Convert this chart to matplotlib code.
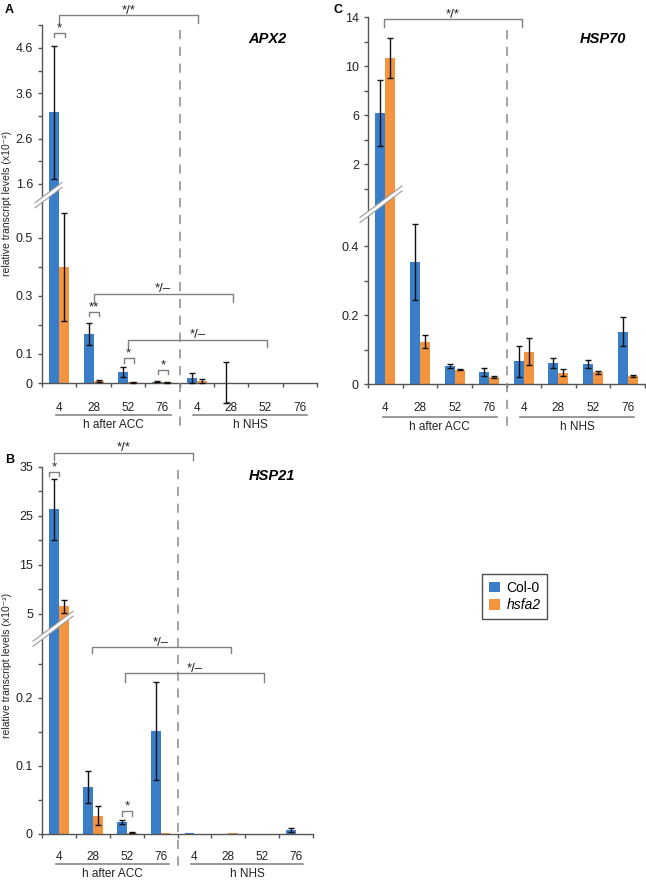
import numpy as np
import matplotlib
matplotlib.use('Agg')
import matplotlib.pyplot as plt
from matplotlib.lines import Line2D
from matplotlib.patches import Polygon, Patch
import matplotlib.transforms as mtransforms

plt.rcParams['font.family'] = ['Liberation Sans', 'DejaVu Sans']

W, H = 646, 882

# ---------------- data ----------------
time_labels = ['4', '28', '52', '76', '4', '28', '52', '76']
group_labels = ['h after ACC', 'h NHS']
series_names = ['Col-0', 'hsfa2']

apx2_col = [3.18, 0.17, 0.037, 0.005, 0.017, 0.001, 0.0, 0.0]
apx2_col_err = [1.47, 0.038, 0.017, 0.003, 0.018, 0.07, 0.0, 0.0]
apx2_hsf = [0.40, 0.008, 0.002, 0.002, 0.007, 0.001, 0.0, 0.0]
apx2_hsf_err = [0.185, 0.004, 0.001, 0.001, 0.006, 0.0, 0.0, 0.0]

hsp21_col = [26.4, 0.069, 0.017, 0.152, 0.001, 0.0005, 0.0, 0.006]
hsp21_col_err = [6.2, 0.023, 0.003, 0.072, 0.0, 0.0, 0.0, 0.003]
hsp21_hsf = [6.6, 0.027, 0.002, 0.001, 0.0005, 0.001, 0.0, 0.0]
hsp21_hsf_err = [1.35, 0.014, 0.001, 0.0, 0.0, 0.0, 0.0, 0.0]

hsp70_col = [6.16, 0.353, 0.052, 0.034, 0.066, 0.060, 0.057, 0.152]
hsp70_col_err = [2.7, 0.11, 0.007, 0.011, 0.045, 0.014, 0.012, 0.042]
hsp70_hsf = [10.65, 0.122, 0.042, 0.020, 0.094, 0.033, 0.034, 0.022]
hsp70_hsf_err = [1.6, 0.019, 0.002, 0.004, 0.040, 0.010, 0.005, 0.003]

BLUE = '#3A7DC9'
ORANGE = '#F4943F'
AXC = '#555555'
GRAY = '#808080'

fig = plt.figure(figsize=(W / 100, H / 100), dpi=100)


def fy(py):
    return 1 - py / H


def rect(x0, y0, x1, y1):
    return [x0 / W, 1 - y1 / H, (x1 - x0) / W, (y1 - y0) / H]


def style_axis(ax):
    for s in ('top', 'right'):
        ax.spines[s].set_visible(False)
    for s in ('left', 'bottom'):
        ax.spines[s].set_color(AXC)
        ax.spines[s].set_linewidth(1.0)
    ax.tick_params(axis='both', which='both', direction='out', color=AXC,
                   length=3, width=1.0, labelsize=9, pad=3.5, labelcolor='#222222')
    ax.set_facecolor('none')


def panel(x0, x1, top, brk, bot, up_lim, lo_lim, up_major, up_minor,
          lo_ticks, lo_lbls, col, col_err, hsf, hsf_err):
    ax_up = fig.add_axes(rect(x0, top, x1, brk))
    ax_lo = fig.add_axes(rect(x0, brk, x1, bot))
    idx = np.arange(len(col))
    w = 0.29
    # lower segment: all bars from zero
    ax_lo.bar(idx - w / 2, col, w, color=BLUE, zorder=2, linewidth=0)
    ax_lo.bar(idx + w / 2, hsf, w, color=ORANGE, zorder=2, linewidth=0)
    # upper segment: only bars that pass the break, continuing from the break
    for vals, off, c in ((col, -w / 2, BLUE), (hsf, w / 2, ORANGE)):
        big = [i for i, v in enumerate(vals) if v > lo_lim[1]]
        ax_up.bar([i + off for i in big], [vals[i] - up_lim[0] for i in big], w,
                  bottom=up_lim[0], color=c, zorder=2, linewidth=0)
    for ax in (ax_up, ax_lo):
        ax.set_xlim(-0.5, 7.5)
        style_axis(ax)
    ax_up.set_ylim(*up_lim)
    ax_lo.set_ylim(*lo_lim)
    ax_up.spines['bottom'].set_visible(False)
    ax_up.set_xticks([])
    ax_up.set_yticks(up_major)
    ax_up.set_yticklabels([('%g' % v) for v in up_major])
    ax_up.set_yticks(up_minor, minor=True)
    ax_up.tick_params(axis='y', which='minor', length=3, width=1.0, color=AXC)
    ax_lo.set_yticks(lo_ticks)
    ax_lo.set_yticklabels(lo_lbls)
    ax_lo.set_xticks(np.arange(-0.5, 8.0, 1.0))
    ax_lo.set_xticklabels([])
    for vals, errs, off in ((col, col_err, -w / 2), (hsf, hsf_err, w / 2)):
        for i, (v, e) in enumerate(zip(vals, errs)):
            if e <= 0:
                continue
            ax = ax_up if v > lo_lim[1] else ax_lo
            cont = ax.errorbar(i + off, v, yerr=e, fmt='none', ecolor='#111111',
                               elinewidth=1.0, capsize=2.2, capthick=1.0, zorder=3)
            for art in cont.get_children():
                art.set_clip_on(False)
    return ax_up, ax_lo


def blend(ax):
    return mtransforms.blended_transform_factory(ax.transData, fig.transFigure)


def bracket(ax, xa, xb, yline, yleg, text, fs=9.5):
    tr = blend(ax)
    fig.add_artist(Line2D([xa, xa, xb, xb], [fy(yleg), fy(yline), fy(yline), fy(yleg)],
                          transform=tr, color=GRAY, lw=1.0))
    fig.text((xa + xb) / 2, fy(yline - 1.5), text, transform=tr, ha='center', va='baseline',
             fontsize=fs, color='#222222')


def dashed(ax, y0, y1):
    tr = blend(ax)
    fig.add_artist(Line2D([3.5, 3.5], [fy(y0), fy(y1)], transform=tr, color='#8a8a8a',
                          lw=1.1, ls=(0, (6, 5))))


def xlabels(ax, ylab, yline, ygrp, l1, l2):
    tr = blend(ax)
    for i, t in enumerate(time_labels):
        fig.text(i, fy(ylab), t, transform=tr, ha='center', va='center', fontsize=8.5,
                 color='#222222')
    for (a, b), g in zip((l1, l2), group_labels):
        fig.add_artist(Line2D([a, b], [fy(yline), fy(yline)], transform=tr, color='#888888',
                              lw=1.2))
        fig.text((a + b) / 2, fy(ygrp), g, transform=tr, ha='center', va='center',
                 fontsize=8.5, color='#222222')


def band(xs, yc, xl, xr, slope=0.75, t=5):
    def pt(x, dy):
        return (x / W, fy(yc - (x - xs) * slope + dy))
    poly = Polygon([pt(xl, t / 2), pt(xr, t / 2), pt(xr, -t / 2), pt(xl, -t / 2)],
                   closed=True, transform=fig.transFigure, facecolor='white',
                   edgecolor='none', zorder=5)
    fig.add_artist(poly)
    for dy in (t / 2, -t / 2):
        a, b = pt(xl, dy), pt(xr, dy)
        fig.add_artist(Line2D([a[0], b[0]], [a[1], b[1]], transform=fig.transFigure,
                              color='#999999', lw=0.8, zorder=6))


# ---------------- Panel A: APX2 ----------------
aU, aL = panel(42, 317, 25, 200, 383, (1.247, 5.107), (0, 0.631),
               [1.6, 2.6, 3.6, 4.6], [2.1, 3.1, 4.1, 5.1],
               [0, 0.1, 0.2, 0.3, 0.4, 0.5], ['0', '0.1', '', '0.3', '', '0.5'],
               apx2_col, apx2_col_err, apx2_hsf, apx2_hsf_err)
band(42, 200, 35, 62)
dashed(aL, 30, 426)
xlabels(aL, 408, 415, 425, (-0.1, 3.25), (3.9, 7.2))
bracket(aL, 0.0, 4.05, 15, 23, '*/*')
bracket(aL, 1.0, 5.05, 294, 302, '*/–')
bracket(aL, 2.0, 6.05, 340, 347, '*/–')
bracket(aL, -0.15, 0.17, 33, 37, '*')
bracket(aL, 0.87, 1.16, 312, 316, '**')
bracket(aL, 1.88, 2.17, 358, 363, '*')
bracket(aL, 2.87, 3.16, 370, 374, '*')
fig.text(267 / W, fy(39), 'APX2', fontsize=10.5, fontweight='bold', fontstyle='italic',
         ha='center', va='center')
fig.text(5 / W, fy(10), 'A', fontsize=9, fontweight='bold', ha='left', va='center')
fig.text(7 / W, fy(203), 'relative transcript levels (x10⁻²)', rotation=90, fontsize=7.5,
         ha='center', va='center', color='#222222')

# ---------------- Panel B: HSP21 ----------------
bU, bL = panel(42, 313, 467, 637, 834, (0.306, 35), (0, 0.2897),
               [5, 15, 25, 35], [10, 20, 30],
               [0, 0.05, 0.1, 0.15, 0.2, 0.25], ['0', '', '0.1', '', '0.2', ''],
               hsp21_col, hsp21_col_err, hsp21_hsf, hsp21_hsf_err)
band(42, 637, 33, 73)
dashed(bL, 470, 868)
xlabels(bL, 857, 864, 874, (-0.1, 3.25), (3.9, 7.2))
bracket(bL, -0.15, 3.95, 453, 460, '*/*')
bracket(bL, 0.97, 5.07, 647, 653, '*/–')
bracket(bL, 1.95, 6.05, 673, 682, '*/–')
bracket(bL, -0.28, 0.0, 472, 476, '*')
bracket(bL, 1.85, 2.17, 811, 816, '*')
fig.text(272 / W, fy(476), 'HSP21', fontsize=10.5, fontweight='bold', fontstyle='italic',
         ha='center', va='center')
fig.text(5 / W, fy(460), 'B', fontsize=9, fontweight='bold', ha='left', va='center')
fig.text(7 / W, fy(665), 'relative transcript levels (x10⁻²)', rotation=90, fontsize=7.5,
         ha='center', va='center', color='#222222')

# ---------------- Panel C: HSP70 ----------------
cU, cL = panel(368, 645, 17, 214, 384, (-2.08, 14), (0, 0.4928),
               [2, 6, 10, 14], [0, 4, 8, 12],
               [0, 0.1, 0.2, 0.3, 0.4], ['0', '', '0.2', '', '0.4'],
               hsp70_col, hsp70_col_err, hsp70_hsf, hsp70_hsf_err)
band(368, 214, 360, 402)
dashed(cL, 30, 426)
xlabels(cL, 408, 417, 427, (-0.07, 3.22), (3.89, 7.19))
bracket(cL, -0.05, 3.95, 19, 27, '*/*')
fig.text(603 / W, fy(39), 'HSP70', fontsize=10.5, fontweight='bold', fontstyle='italic',
         ha='center', va='center')
fig.text(333 / W, fy(10), 'C', fontsize=9, fontweight='bold', ha='left', va='center')

# ---------------- Legend ----------------
handles = [Patch(facecolor=BLUE, edgecolor='none'), Patch(facecolor=ORANGE, edgecolor='none')]
leg = fig.legend(handles, series_names, loc='upper left', bbox_to_anchor=(482 / W, fy(574)),
                 borderaxespad=0, frameon=True, fancybox=False, edgecolor='#222222',
                 fontsize=10, handlelength=0.8, handleheight=0.8, handletextpad=0.45,
                 labelspacing=0.25, borderpad=0.5)
leg.get_frame().set_linewidth(1.0)
leg.get_texts()[1].set_fontstyle('italic')

fig.savefig('out.png', dpi=100)
